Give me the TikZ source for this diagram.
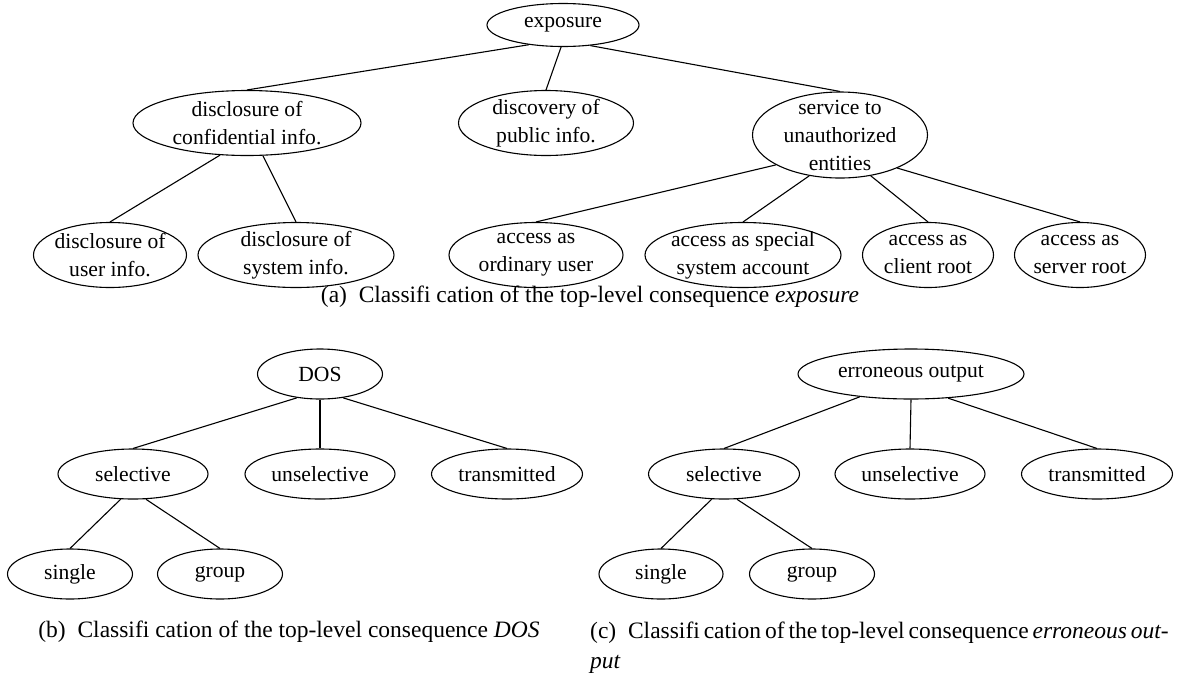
\documentclass[tikz,border=0pt]{standalone}
\usepackage{fontspec}
\setmainfont{Liberation Serif}
\usetikzlibrary{shapes.geometric}

\begin{document}
\begin{tikzpicture}[
    x=1pt, y=-1pt,
    conseq/.style={draw, ellipse, inner sep=-30pt, align=center, line width=1.1pt, font=\fontsize{21.6}{28}\selectfont},
    twoline/.style={conseq, minimum height=65},
    oneline/.style={conseq, minimum height=50},
    link/.style={line width=1.1pt},
    caption/.style={font=\fontsize{23.5}{29.5}\selectfont, inner sep=0pt},
]
    \useasboundingbox (0, 0) rectangle (1177, 673);

    % === (a) EXPOSURE ===
    \node[conseq, minimum width=152, minimum height=43] (expo) at (563, 25) {exposure};
    \node[twoline, minimum width=228] (confinfo) at (247, 123) {disclosure of\\confidential info.};
    \node[twoline, minimum width=175] (pubinfo) at (546, 123) {discovery of\\public info.};
    \node[conseq, minimum width=175, minimum height=86] (service) at (840, 135) {service to\\unauthorized\\entities};
    \node[twoline, minimum width=153] (userinfo) at (110, 255) {disclosure of\\user info.};
    \node[twoline, minimum width=196] (sysinfo) at (296, 255) {disclosure of\\system info.};
    \node[twoline, minimum width=174] (ordinary) at (536, 255) {access as\\ordinary user};
    \node[twoline, minimum width=196] (special) at (743, 255) {access as special\\system account};
    \node[twoline, minimum width=131] (clientroot) at (928, 255) {access as\\client root};
    \node[twoline, minimum width=131] (serverroot) at (1080, 255) {access as\\server root};
    \node[caption] (capa) at (590, 297) {(a)\enspace Classifi cation of the top-level consequence \textit{exposure}};

    % === (b) DOS ===
    \node[oneline, minimum width=125] (dos) at (320, 374) {DOS};
    \node[oneline, minimum width=150] (dossel) at (133, 474) {selective};
    \node[oneline, minimum width=150] (dosunsel) at (320, 474) {unselective};
    \node[oneline, minimum width=151] (dostrans) at (507, 474) {transmitted};
    \node[oneline, minimum width=125] (dossingle) at (70, 574) {single};
    \node[oneline, minimum width=125] (dosgroup) at (220, 574) {group};
    \node[caption] (capb) at (289, 632) {(b)\enspace Classifi cation of the top-level consequence \textit{DOS}};

    % === (c) ERRONEOUS OUTPUT ===
    \node[oneline, minimum width=226] (err) at (911, 374) {erroneous output};
    \node[oneline, minimum width=151] (errsel) at (724, 474) {selective};
    \node[oneline, minimum width=150] (errunsel) at (910, 474) {unselective};
    \node[oneline, minimum width=151] (errtrans) at (1097, 474) {transmitted};
    \node[oneline, minimum width=124] (errsingle) at (661, 574) {single};
    \node[oneline, minimum width=125] (errgroup) at (812, 574) {group};
    \node[caption, anchor=north west, align=left] (capc) at (590, 622)
        {\hbox to 577pt{(c)\enspace Classifi cation of the top-level consequence \textit{erroneous out-}}\\\textit{put}};

    % === EDGES: exposure ===
    \draw[link] (expo.210) -- (confinfo.north);
    \draw[link] (expo.265) -- (pubinfo.north);
    \draw[link] (expo.323) -- (service.north);
    \draw[link] (confinfo.230) -- (userinfo.north);
    \draw[link] (confinfo.296) -- (sysinfo.north);
    \draw[link] (service.205) -- (ordinary.north);
    \draw[link] (service.233) -- (special.north);
    \draw[link] (service.307) -- (clientroot.north);
    \draw[link] (service.330) -- (serverroot.north);

    % === EDGES: DOS ===
    \draw[link] (dos.226) -- (dossel.north);
    \draw[link] (dos.south) -- (dosunsel.north);
    \draw[link] (dos.314) -- (dostrans.north);
    \draw[link] (dossel.244) -- (dossingle.north);
    \draw[link] (dossel.297) -- (dosgroup.north);

    % === EDGES: erroneous output ===
    \draw[link] (err.204) -- (errsel.north);
    \draw[link] (err.south) -- (errunsel.north);
    \draw[link] (err.327) -- (errtrans.north);
    \draw[link] (errsel.244) -- (errsingle.north);
    \draw[link] (errsel.297) -- (errgroup.north);
\end{tikzpicture}
\end{document}
